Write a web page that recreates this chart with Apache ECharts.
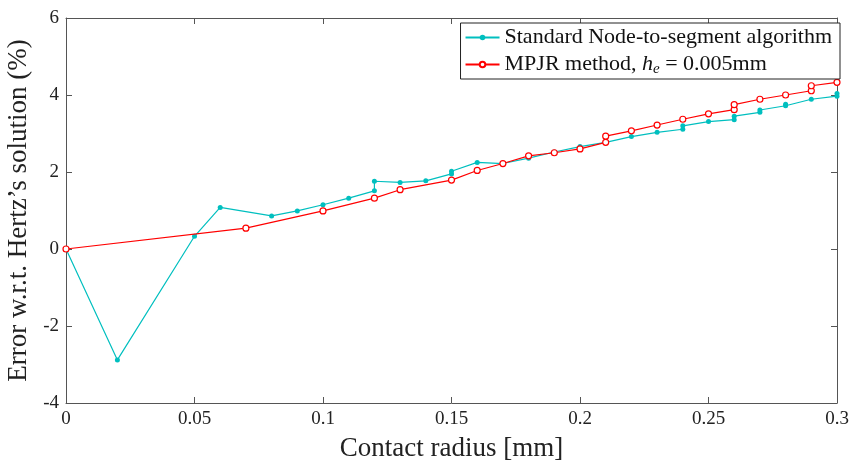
<!DOCTYPE html>
<html><head><meta charset="utf-8">
<script src="https://cdn.jsdelivr.net/npm/echarts@6/dist/echarts.min.js"></script>
<style>html,body{margin:0;padding:0;background:#fff}#c{width:853px;height:464px}</style>
</head><body><div id="c"></div>
<script>
var ntsX = [0, 0.02, 0.05, 0.06, 0.08, 0.09, 0.10, 0.11, 0.12, 0.12, 0.13, 0.14, 0.15, 0.15, 0.16, 0.17, 0.18, 0.19, 0.20, 0.21, 0.22, 0.23, 0.24, 0.24, 0.25, 0.26, 0.26, 0.27, 0.27, 0.28, 0.28, 0.29, 0.30, 0.30];
var ntsY = [0, -2.88, 0.33, 1.08, 0.86, 0.99, 1.15, 1.32, 1.51, 1.76, 1.73, 1.77, 1.95, 2.02, 2.25, 2.22, 2.36, 2.52, 2.66, 2.77, 2.92, 3.03, 3.11, 3.20, 3.31, 3.36, 3.45, 3.55, 3.61, 3.72, 3.76, 3.89, 3.97, 4.04];
var mpjrX = [0, 0.07, 0.10, 0.12, 0.13, 0.15, 0.16, 0.17, 0.18, 0.19, 0.20, 0.21, 0.21, 0.22, 0.23, 0.24, 0.25, 0.26, 0.26, 0.27, 0.28, 0.29, 0.29, 0.30];
var mpjrY = [0, 0.54, 0.99, 1.32, 1.54, 1.79, 2.04, 2.22, 2.42, 2.50, 2.60, 2.77, 2.93, 3.07, 3.22, 3.37, 3.51, 3.62, 3.75, 3.89, 4.00, 4.11, 4.24, 4.33];
var xTicks = [0, 0.05, 0.1, 0.15, 0.2, 0.25, 0.3];
var yTicks = [-4, -2, 0, 2, 4, 6];
var seriesNames = ['Standard Node-to-segment algorithm', 'MPJR method, h_e = 0.005mm'];

function pairs(xs, ys){ return xs.map(function(x,i){ return [x, ys[i]]; }); }

var FONT = '"Liberation Serif", "DejaVu Serif", serif';
var axisCol = '#555';
var chart = echarts.init(document.getElementById('c'), null, {renderer:'canvas'});
var baseX = {type:'value', min:xTicks[0], max:xTicks[xTicks.length-1], interval:0.05,
  axisLine:{show:true, onZero:false, lineStyle:{color:axisCol, width:1}},
  axisTick:{show:true, inside:true, length:6, lineStyle:{color:axisCol}},
  splitLine:{show:false}};
var baseY = {type:'value', min:yTicks[0], max:yTicks[yTicks.length-1], interval:2,
  axisLine:{show:true, onZero:false, lineStyle:{color:axisCol, width:1}},
  axisTick:{show:true, inside:true, length:6, lineStyle:{color:axisCol}},
  splitLine:{show:false}};

var option = {
  animation:false,
  backgroundColor:'#fff',
  grid:{left:66, right:16, top:18, bottom:61, containLabel:false, outerBoundsMode:'none'},
  xAxis:[
    Object.assign({}, baseX, {position:'bottom', name:'Contact radius [mm]', nameLocation:'middle', nameGap:32,
      nameTextStyle:{fontFamily:FONT, fontSize:27, color:'#222'},
      axisLabel:{fontFamily:FONT, fontSize:19, color:'#222', margin:7,
        formatter:function(v){ return String(parseFloat(v.toFixed(2))); }}}),
    Object.assign({}, baseX, {position:'top', axisLabel:{show:false}})
  ],
  yAxis:[
    Object.assign({}, baseY, {position:'left', name:"Error w.r.t. Hertz\u2019s solution (%)", nameLocation:'middle', nameGap:27,
      nameTextStyle:{fontFamily:FONT, fontSize:27, color:'#222'},
      axisLabel:{fontFamily:FONT, fontSize:19, color:'#222', margin:7}}),
    Object.assign({}, baseY, {position:'right', axisLabel:{show:false}})
  ],
  legend:{
    orient:'vertical', right:13, top:23,
    backgroundColor:'#fff', borderColor:'#222', borderWidth:1, borderRadius:0,
    padding:[2,8,2,4], itemGap:2, itemWidth:34, itemHeight:7,
    data:seriesNames,
    formatter:function(n){ return n === seriesNames[1] ? 'MPJR method, {it|h}{sub|e} = 0.005mm' : n; },
    textStyle:{fontFamily:FONT, fontSize:22, color:'#111', lineHeight:25,
      rich:{it:{fontFamily:FONT, fontStyle:'italic', fontSize:22, color:'#111'},
            sub:{fontFamily:FONT, fontStyle:'italic', fontSize:15, color:'#111', verticalAlign:'bottom', padding:[9,0,0,0]}}}
  },
  series:[
    {name:seriesNames[0], type:'line', xAxisIndex:0, yAxisIndex:0, data:pairs(ntsX, ntsY),
      color:'#00BFBF', symbol:'circle', symbolSize:5, showAllSymbol:true,
      lineStyle:{width:1.2, color:'#00BFBF'}, itemStyle:{color:'#00BFBF'}, z:2},
    {name:seriesNames[1], type:'line', xAxisIndex:0, yAxisIndex:0, data:pairs(mpjrX, mpjrY),
      color:'#FF0000', symbol:'circle', symbolSize:6, showAllSymbol:true,
      lineStyle:{width:1.2, color:'#FF0000'}, itemStyle:{color:'#fff', borderColor:'#FF0000', borderWidth:1.2}, z:3}
  ]
};
chart.setOption(option);
</script></body></html>
